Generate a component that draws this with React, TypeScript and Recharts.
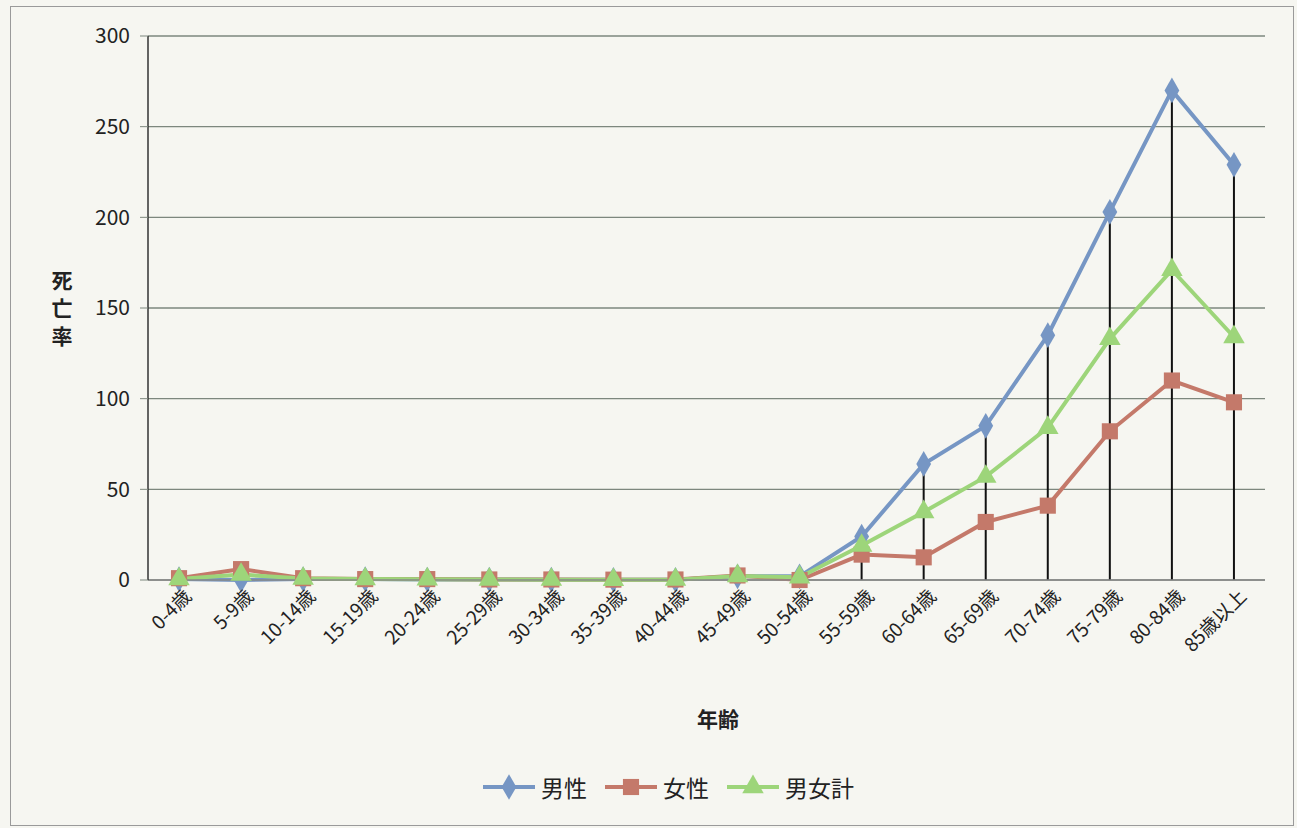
import React from "react";
import { ComposedChart, Line, Bar, XAxis, YAxis, CartesianGrid, Legend, Symbols } from "recharts";

// age groups and death rates
const categories = [
  "0-4歳", "5-9歳", "10-14歳", "15-19歳", "20-24歳", "25-29歳", "30-34歳", "35-39歳", "40-44歳",
  "45-49歳", "50-54歳", "55-59歳", "60-64歳", "65-69歳", "70-74歳", "75-79歳", "80-84歳", "85歳以上",
];
const male = [0.5, 0, 0.5, 0.5, 0.3, 0.3, 0.2, 0.1, 0.1, 2, 2, 24, 64, 85, 135, 203, 270, 229];
const female = [1, 6, 1, 0.5, 0.5, 0.3, 0.3, 0.2, 0.3, 2.5, 0, 14, 12.5, 32, 41, 82, 110, 98];
const total = [0.5, 3, 0.8, 0.5, 0.4, 0.3, 0.2, 0.1, 0.2, 2.2, 1.5, 19, 37.5, 57, 84, 133, 171, 134];
const yTicks = [0, 50, 100, 150, 200, 250, 300];

const BLUE = "#7696c4";
const RED = "#c4796a";
const GREEN = "#9dd57a";
const FONT = "'Noto Sans CJK JP', 'Noto Sans', sans-serif";

const data = categories.map((name, i) => ({
  name,
  male: male[i],
  female: female[i],
  total: total[i],
  drop: Math.max(male[i], female[i], total[i]),
}));

const series = [
  { key: "male", label: "男性", color: BLUE, shape: "diamond" as const, size: 190 },
  { key: "female", label: "女性", color: RED, shape: "square" as const, size: 260 },
  { key: "total", label: "男女計", color: GREEN, shape: "triangle" as const, size: 200 },
];

const makeDot = (color: string, shape: any, size: number) => (props: any) => {
  const { cx, cy, index } = props;
  if (cx == null || cy == null) return <g key={index} />;
  return <Symbols key={index} cx={cx} cy={cy} type={shape} size={size} fill={color} />;
};

const XTick = (props: any) => {
  const { x, y, payload } = props;
  return (
    <g transform={`translate(${x + 8},${y + 4})`}>
      <text transform="rotate(-45)" textAnchor="end" dy={8} fontSize={19} fill="#222" fontFamily={FONT}>
        {payload.value}
      </text>
    </g>
  );
};

const YLabel = () => (
  <text x={62} fontSize={21} fontWeight="bold" fill="#222" fontFamily={FONT} textAnchor="middle">
    <tspan x={62} y={288}>死</tspan>
    <tspan x={62} y={316}>亡</tspan>
    <tspan x={62} y={344}>率</tspan>
  </text>
);

const XLabel = () => (
  <text x={718} y={727} fontSize={21} fontWeight="bold" fill="#222" fontFamily={FONT} textAnchor="middle">
    年齢
  </text>
);

const LegendBox = () => (
  <div style={{ display: "flex", justifyContent: "center", gap: 16, fontFamily: FONT, fontSize: 23, color: "#222" }}>
    {series.map((s) => (
      <div key={s.key} style={{ display: "flex", alignItems: "center" }}>
        <svg width={56} height={26}>
          <line x1={2} y1={13} x2={54} y2={13} stroke={s.color} strokeWidth={4} />
          <Symbols cx={28} cy={13} type={s.shape} size={s.size} fill={s.color} />
        </svg>
        <span style={{ marginLeft: 4 }}>{s.label}</span>
      </div>
    ))}
  </div>
);

export default function App() {
  return (
    <div style={{ position: "absolute", left: 0, top: 0, width: 1297, height: 828, background: "#f6f6f1" }}>
      <div style={{ position: "absolute", left: 10, top: 6, width: 1282, height: 818, border: "1px solid #9a9a9a" }} />
      <ComposedChart
        width={1297}
        height={828}
        data={data}
        margin={{ top: 36, right: 32, bottom: 24, left: 70 }}
      >
        <CartesianGrid vertical={false} stroke="#7d877e" strokeWidth={1.4} />
        <XAxis
          dataKey="name"
          interval={0}
          height={190}
          tick={<XTick />}
          tickLine={false}
          axisLine={{ stroke: "#888", strokeWidth: 1.5 }}
          label={<XLabel />}
        />
        <YAxis
          width={78}
          domain={[0, 300]}
          ticks={yTicks}
          interval={0}
          tickSize={8}
          tickMargin={10}
          tick={{ fontSize: 21, fill: "#222", fontFamily: FONT }}
          tickLine={{ stroke: "#7d877e" }}
          axisLine={{ stroke: "#333", strokeWidth: 1.5 }}
          label={<YLabel />}
        />
        {series.map((s) => (
          <Line
            key={s.key}
            dataKey={s.key}
            name={s.label}
            stroke={s.color}
            strokeWidth={4}
            dot={makeDot(s.color, s.shape, s.size)}
            activeDot={false}
            isAnimationActive={false}
          />
        ))}
        <Bar dataKey="drop" fill="#111" barSize={2} legendType="none" isAnimationActive={false} />
        <Legend verticalAlign="bottom" content={<LegendBox />} />
      </ComposedChart>
    </div>
  );
}
